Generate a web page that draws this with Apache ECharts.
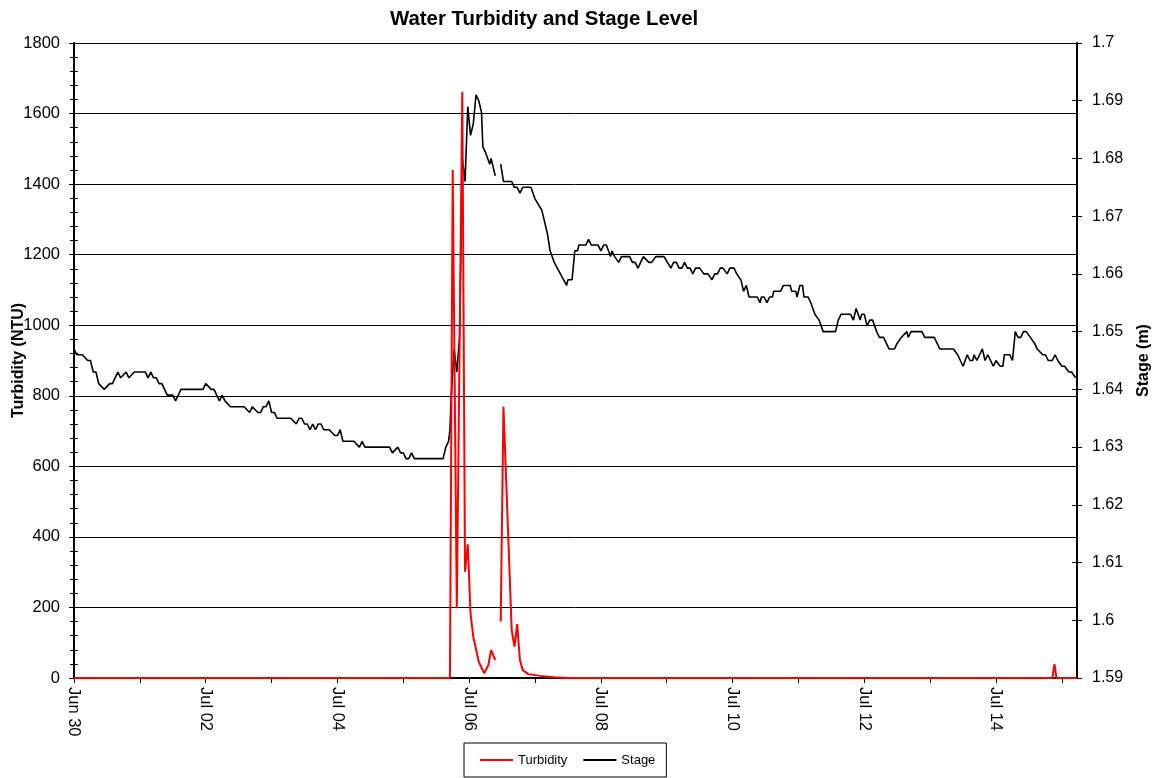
<!DOCTYPE html>
<html>
<head>
<meta charset="utf-8">
<title>Water Turbidity and Stage Level</title>
<script src="https://cdn.jsdelivr.net/npm/echarts@6/dist/echarts.min.js"></script>
<style>
  html, body { margin: 0; padding: 0; background: #fff; }
  #chart { width: 1156px; height: 778px; }
</style>
</head>
<body>
<div id="chart"></div>
<script>
// Hours elapsed since Jun 30 00:00 for each reading
const stageHours = [0, 1, 3, 5, 6, 7, 8, 9, 11, 13, 14, 16, 17, 19, 20, 22, 26, 27, 28, 29, 30, 31, 32, 34, 36, 37, 39, 47, 48, 50, 51, 52, 53, 54, 55, 57, 62, 64, 65, 67, 68, 69, 70, 71, 72, 73, 74, 79, 81, 82, 83, 84, 85, 86, 87, 88, 89, 90, 91, 93, 95, 96, 97, 98, 102, 104, 105, 106, 115, 116, 118, 119, 120, 121, 122, 123, 124, 134.5, 135.5, 136.5, 137, 137.5, 138.5, 139.5, 140.5, 141.5, 142.5, 143.5, 144.5, 145.5, 146.5, 147.5, 148.5, 149, 150, 151.5, 152, 152.5, 153.5, 154.5, 155.5, 156.5, 159.5, 160.5, 161.5, 162.5, 163.5, 166.5, 168, 170.5, 172.5, 173.5, 175, 179.5, 180, 181.5, 182.5, 183.5, 184, 186.5, 187.5, 188.5, 191, 192, 193, 194, 195.5, 196, 197, 198.5, 199.5, 202.5, 203.5, 204.5, 205.5, 207.5, 208, 209.5, 210.5, 212, 215, 217.5, 218.5, 219.5, 220.5, 221.5, 222.5, 223.5, 224.5, 225.5, 226.5, 228, 229.5, 231, 232.5, 233.5, 234.5, 235.5, 236.5, 238, 239, 240.5, 241.5, 243, 244, 245, 246, 249, 250, 250.5, 251.5, 252.5, 253.5, 254.5, 255, 257.5, 258.5, 261, 261.5, 263, 263.5, 264.5, 265.5, 266, 267.5, 268.5, 270, 271.5, 272, 273, 277.5, 278.5, 279.5, 283, 284, 285, 286.5, 287, 288, 289, 290, 291, 292.5, 293.5, 295, 297, 299, 300, 301.5, 303.5, 304, 305, 309, 310, 313.5, 314.5, 315.5, 320.5, 322, 323, 324, 325.5, 326.5, 327.5, 328, 329, 330, 331, 332, 333, 334, 335, 336, 337.5, 338.5, 339, 341, 342, 343, 344, 345, 346, 347, 348.5, 350, 351, 353, 354, 355, 356.5, 357.5, 358.5, 360, 361, 362.5, 363.5, 365];

// Stage (m); null marks the missing reading
const stageValues = [1.647, 1.646, 1.646, 1.645, 1.645, 1.643, 1.643, 1.641, 1.640, 1.641, 1.641, 1.643, 1.642, 1.643, 1.642, 1.643, 1.643, 1.642, 1.643, 1.642, 1.642, 1.641, 1.641, 1.639, 1.639, 1.638, 1.640, 1.640, 1.641, 1.640, 1.640, 1.639, 1.638, 1.639, 1.638, 1.637, 1.637, 1.636, 1.637, 1.636, 1.636, 1.637, 1.637, 1.638, 1.636, 1.636, 1.635, 1.635, 1.634, 1.635, 1.635, 1.634, 1.634, 1.633, 1.634, 1.633, 1.634, 1.634, 1.633, 1.633, 1.632, 1.632, 1.633, 1.631, 1.631, 1.630, 1.631, 1.630, 1.630, 1.629, 1.630, 1.629, 1.629, 1.628, 1.628, 1.629, 1.628, 1.628, 1.630, 1.631, 1.633, 1.639, 1.647, 1.643, 1.649, 1.680, 1.676, 1.689, 1.684, 1.686, 1.691, 1.690, 1.688, 1.682, 1.681, 1.679, 1.680, 1.679, 1.677, null, 1.679, 1.676, 1.676, 1.675, 1.675, 1.674, 1.675, 1.675, 1.673, 1.671, 1.667, 1.664, 1.662, 1.658, 1.659, 1.659, 1.664, 1.664, 1.665, 1.665, 1.666, 1.665, 1.665, 1.664, 1.665, 1.665, 1.663, 1.664, 1.663, 1.662, 1.663, 1.663, 1.662, 1.662, 1.661, 1.663, 1.663, 1.662, 1.662, 1.663, 1.663, 1.661, 1.662, 1.662, 1.661, 1.661, 1.662, 1.661, 1.661, 1.660, 1.661, 1.661, 1.660, 1.660, 1.659, 1.660, 1.660, 1.661, 1.661, 1.660, 1.661, 1.661, 1.660, 1.659, 1.657, 1.658, 1.656, 1.656, 1.655, 1.656, 1.656, 1.655, 1.656, 1.656, 1.657, 1.657, 1.658, 1.658, 1.657, 1.657, 1.656, 1.658, 1.658, 1.656, 1.656, 1.655, 1.653, 1.652, 1.652, 1.650, 1.650, 1.652, 1.653, 1.653, 1.652, 1.654, 1.652, 1.653, 1.653, 1.651, 1.652, 1.652, 1.650, 1.649, 1.649, 1.647, 1.647, 1.648, 1.649, 1.650, 1.649, 1.650, 1.650, 1.649, 1.649, 1.648, 1.647, 1.647, 1.646, 1.645, 1.644, 1.646, 1.645, 1.645, 1.646, 1.645, 1.646, 1.647, 1.645, 1.646, 1.645, 1.644, 1.645, 1.644, 1.644, 1.646, 1.646, 1.645, 1.650, 1.649, 1.649, 1.650, 1.650, 1.649, 1.648, 1.647, 1.646, 1.646, 1.645, 1.645, 1.646, 1.645, 1.644, 1.644, 1.643, 1.643, 1.642];

const turbidityHours = [0, 137, 138, 139.5, 141.5, 142.5, 143.5, 144.5, 145.5, 147.5, 149.5, 151, 152, 153.5, 154.5, 155.5, 156.5, 159.5, 160.5, 161.5, 162.5, 163.5, 165.5, 170, 175, 180, 356.5, 357.3, 358, 365.5];

// Turbidity (NTU); null marks the missing reading
const turbidityValues = [0, 0, 1440, 198, 1662, 301, 379, 183, 117, 46, 13, 37, 79, 51, null, 160, 769, 136, 89, 153, 51, 23, 11, 6, 2, 0, 0, 39, 0, 0];

const turbidityTicks = [0, 200, 400, 600, 800, 1000, 1200, 1400, 1600, 1800];
const stageTicks = [1.59, 1.6, 1.61, 1.62, 1.63, 1.64, 1.65, 1.66, 1.67, 1.68, 1.69, 1.7];

const START = Date.UTC(2009, 5, 30);
const MONTHS = ['Jan', 'Feb', 'Mar', 'Apr', 'May', 'Jun', 'Jul', 'Aug', 'Sep', 'Oct', 'Nov', 'Dec'];
const HOURS_SHOWN = 365.5;

const FONT = "'Liberation Sans', Arial, sans-serif";

function pairs(hours, values) {
  return hours.map((h, i) => [h, values[i] === null ? '-' : values[i]]);
}

function dateLabel(v) {
  if (Math.abs(v % 48) > 1e-6) return '';
  const d = new Date(START + v * 3600000);
  return MONTHS[d.getUTCMonth()] + ' ' + String(d.getUTCDate()).padStart(2, '0');
}

const chart = echarts.init(document.getElementById('chart'), null, { renderer: 'canvas' });

const tMin = turbidityTicks[0], tMax = turbidityTicks[turbidityTicks.length - 1];
const sMin = stageTicks[0], sMax = stageTicks[stageTicks.length - 1];

chart.setOption({
  animation: false,
  backgroundColor: '#fff',
  textStyle: { fontFamily: FONT, color: '#000' },
  title: {
    text: 'Water Turbidity and Stage Level',
    left: 385,
    top: 4,
    textStyle: { fontFamily: FONT, fontSize: 20.4, fontWeight: 'bold', color: '#000' }
  },
  grid: { left: 74, right: 79, top: 43, bottom: 100, containLabel: false, outerBoundsMode: 'none' },
  legend: {
    data: ['Turbidity', 'Stage'],
    left: 464,
    top: 743,
    icon: 'rect',
    itemWidth: 33,
    itemHeight: 2,
    itemGap: 16,
    padding: [10, 11, 10, 16],
    borderColor: '#000',
    borderWidth: 1,
    textStyle: { fontFamily: FONT, fontSize: 13, color: '#000', lineHeight: 14 }
  },
  xAxis: {
    type: 'value',
    min: 0,
    max: HOURS_SHOWN,
    interval: 24,
    axisLine: { show: true, lineStyle: { color: '#000', width: 2 } },
    axisTick: { show: true, length: 5, lineStyle: { color: '#000' } },
    splitLine: { show: false },
    axisLabel: {
      rotate: -90,
      margin: 9,
      fontSize: 16.5,
      color: '#000',
      fontFamily: FONT,
      showMaxLabel: false,
      formatter: dateLabel
    }
  },
  yAxis: [
    {
      type: 'value',
      position: 'left',
      min: tMin,
      max: tMax,
      interval: 200,
      name: 'Turbidity (NTU)',
      nameLocation: 'middle',
      nameGap: 47,
      nameMoveOverlap: false,
      nameTextStyle: { fontFamily: FONT, fontSize: 16, fontWeight: 'bold', color: '#000' },
      axisLine: { show: true, lineStyle: { color: '#000', width: 2 } },
      axisTick: { show: true, length: 5, lineStyle: { color: '#000' } },
      minorTick: { show: true, splitNumber: 5, length: 4, lineStyle: { color: '#000' } },
      axisLabel: { fontSize: 16.5, color: '#000', fontFamily: FONT, margin: 14, formatter: v => String(v) },
      splitLine: { show: true, lineStyle: { color: '#000', width: 1 } }
    },
    {
      type: 'value',
      position: 'right',
      min: sMin,
      max: sMax,
      interval: 0.01,
      name: 'Stage (m)',
      nameLocation: 'middle',
      nameGap: 59,
      nameMoveOverlap: false,
      nameTextStyle: { fontFamily: FONT, fontSize: 16, fontWeight: 'bold', color: '#000' },
      axisLine: { show: true, lineStyle: { color: '#000', width: 2 } },
      axisTick: { show: true, length: 5, lineStyle: { color: '#000' } },
      axisLabel: {
        fontSize: 16, color: '#000', fontFamily: FONT, margin: 15,
        formatter: v => String(parseFloat(v.toFixed(2)))
      },
      splitLine: { show: false }
    },
    {
      // inner half of the crossing ticks on the turbidity axis
      type: 'value',
      position: 'left',
      min: tMin,
      max: tMax,
      interval: 200,
      axisLine: { show: false },
      axisTick: { show: true, inside: true, length: 4, lineStyle: { color: '#000' } },
      minorTick: { show: true, splitNumber: 5, length: 4, lineStyle: { color: '#000' } },
      axisLabel: { show: false },
      splitLine: { show: false }
    },
    {
      // inner half of the crossing ticks on the stage axis
      type: 'value',
      position: 'right',
      min: sMin,
      max: sMax,
      interval: 0.01,
      axisLine: { show: false },
      axisTick: { show: true, inside: true, length: 5, lineStyle: { color: '#000' } },
      axisLabel: { show: false },
      splitLine: { show: false }
    }
  ],
  series: [
    {
      name: 'Turbidity',
      type: 'line',
      yAxisIndex: 0,
      data: pairs(turbidityHours, turbidityValues),
      symbol: 'none',
      clip: false,
      z: 4,
      lineStyle: { color: '#ff0000', width: 2 },
      itemStyle: { color: '#ff0000' }
    },
    {
      name: 'Stage',
      type: 'line',
      yAxisIndex: 1,
      data: pairs(stageHours, stageValues),
      symbol: 'none',
      z: 3,
      lineStyle: { color: '#000', width: 1.6 },
      itemStyle: { color: '#000' }
    }
  ]
});
</script>
</body>
</html>
